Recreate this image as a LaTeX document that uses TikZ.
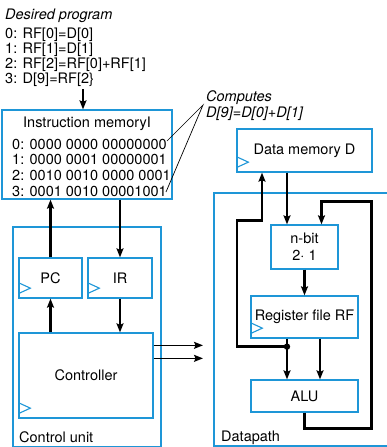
\documentclass[tikz,border=0pt]{standalone}
\usepackage{fontspec}
\setmainfont{TeX Gyre Heros}
\usetikzlibrary{calc,arrows.meta}
\tikzset {>={Stealth[length=9pt,width=7pt,inset=1.5pt]}}
\definecolor{boxblue}{RGB}{30,150,215}
\tikzset{
  blk/.style={draw=boxblue, line width=1.3pt, inner sep=0pt},
  txt/.style={inner sep=0pt, font=\fontsize{14.5}{15.7}\selectfont},
  conn/.style={line width=2.4pt, ->},
  ctl/.style={line width=1.6pt, ->},
  clkline/.style={draw=boxblue, line width=1.1pt}
}
% clock mark on a box
\newcommand{\clk}[1]{\draw[clkline] ($(#1.south west)+(0,-16)$) -- ++(12,5.5) -- ++(-12,5.5);}

\begin{document}
\begin{tikzpicture}[x=1pt,y=-1pt]
\useasboundingbox (0,0) rectangle (386,447);

% program and instruction memory
\node[txt, anchor=north west, align=left, font=\fontsize{14.5}{15}\selectfont] (prog) at (5,8.5)
  {\textit{Desired program}\\[4pt] 0: RF[0]=D[0]\\ 1: RF[1]=D[1]\\ 2: RF[2]=RF[0]+RF[1]\\ 3: D[9]=RF[2\}};
\node[blk, minimum width=170pt, minimum height=89pt] (imem) at (87,154.5) {};
\node[txt, anchor=base] (imemtitle) at (87,127) {Instruction memoryI};
\node[txt, anchor=north west, align=left] (imemcode) at (12,138.7)
  {0: 0000 0000 00000000\\ 1: 0000 0001 00000001\\ 2: 0010 0010 0000 0001\\ 3: 0001 0010 00001001};
\coordinate (progout) at (83,89);
\draw[conn] (progout) -- (progout |- imem.north);

% note
\node[txt, anchor=north west, align=left] (note) at (206,90.5)
  {\textit{Computes}\\ \textit{D[9]=D[0]+D[1]}};
\coordinate (tip) at (203,105);
\coordinate (c0) at (167,141);
\coordinate (c3) at (166,192);
\draw[line width=0.7pt] (c0) -- (tip) -- (c3);

% control unit
\node[blk, minimum width=148pt, minimum height=220pt] (cu) at (87,337) {};
\node[txt, anchor=base west] (culabel) at (19,442) {Control unit};
\node[blk, minimum width=63pt, minimum height=40pt] (PC) at (50.5,278) {};
\node[txt] (pctext) at (PC) {PC};
\node[blk, minimum width=64pt, minimum height=40pt] (IR) at (120,278) {};
\node[txt] (irtext) at (IR) {IR};
\node[blk, minimum width=134pt, minimum height=85pt] (ctrl) at (86,375.5) {};
\node[txt] (ctrltext) at (ctrl) {Controller};
\clk{PC} \clk{IR} \clk{ctrl}

\draw[conn] (PC.north) -- (PC.north |- imem.south);
\draw[conn] (PC.south |- ctrl.north) -- (PC.south);
\draw[conn] (IR.north |- imem.south) -- (IR.north);
\draw[conn] (IR.south) -- (IR.south |- ctrl.north);
\draw[ctl] ($(ctrl.north east)+(0,13)$) coordinate (o1) -- (o1 -| 203,0);
\draw[ctl] ($(ctrl.north east)+(0,26)$) coordinate (o2) -- (o2 -| 203,0);

% data memory and datapath
\node[blk, minimum width=135pt, minimum height=43pt] (dmem) at (304.5,150.5) {};
\node[txt] (dmemtext) at (dmem) {Data memory D};
\node[blk, minimum width=175pt, minimum height=253pt] (dp) at (301.5,319.5) {};
\node[txt, anchor=base west] (dplabel) at (221,441) {Datapath};
\node[blk, minimum width=67pt, minimum height=44pt] (mux) at (304.5,247) {};
\node[txt, align=center, font=\fontsize{14.5}{17}\selectfont] (muxtext) at (mux) {n-bit\\2$\cdot$ 1};
\node[blk, minimum width=107pt, minimum height=42pt] (RF) at (304.5,317) {};
\node[txt] (rftext) at (RF) {Register file RF};
\node[blk, minimum width=107pt, minimum height=32pt] (ALU) at (304.5,396) {};
\node[txt] (alutext) at (ALU) {ALU};
\clk{dmem} \clk{RF}

\draw[conn] ($(dmem.south)+(-17.5,0)$) coordinate (dm) -- (dm |- mux.north);
\draw[conn] (mux.south) -- (RF.north);
\draw[conn] ($(RF.south)+(-17.5,0)$) coordinate (ra) -- (ra |- ALU.north);
\draw[conn] ($(RF.south)+(15.5,0)$) coordinate (rb) -- (rb |- ALU.north);
\coordinate (jn) at ($(ra)+(0,8)$);
\fill (jn) circle (3.2pt);
\draw[conn, line join=miter] (jn) -- ++(-50,0) -- ++(0,-126) -- ++(25,0)
  coordinate (up) -- (up |- dmem.south);
\draw[conn, line join=miter] (ALU.south) -- ++(0,16) -- ++(67,0) -- ++(0,-227)
  coordinate (back) -- ++(-50,0) coordinate (mx) -- (mx |- mux.north);

\end{tikzpicture}
\end{document}
